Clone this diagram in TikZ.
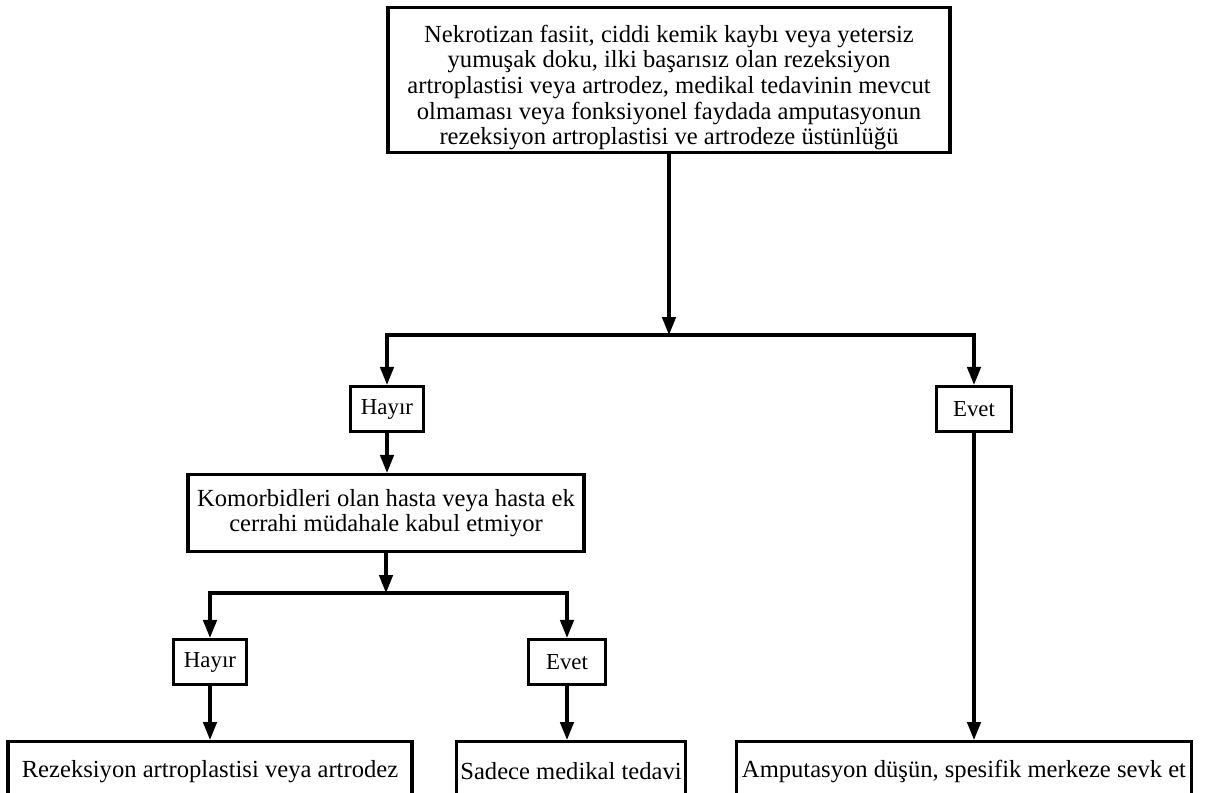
\documentclass[tikz,border=0pt]{standalone}
\usepackage{fontspec}
\setmainfont{Liberation Serif}
\usetikzlibrary{arrows.meta, positioning}

\begin{document}
\begin{tikzpicture}[
        x=0.02cm, y=-0.02cm,
        >={Triangle[length=0.36cm, width=0.27cm]},
        every node/.style={font=\fontsize{14}{14.6}\selectfont},
        box/.style={draw, line width=1.8pt, align=center, inner sep=2pt, minimum height=0.9cm},
        answer/.style={box, minimum width=1.45cm, font=\fontsize{13}{14}\selectfont},
        arr/.style={->, line width=1.8pt},
        line/.style={line width=1.8pt},
    ]
    \useasboundingbox (0,0) rectangle (1215,792);

    %% Boxes
    \node[box, inner sep=0pt, minimum width=11.24cm, minimum height=2.9cm] (top) at (669,80)
        {\rule{0pt}{0.64cm}Nekrotizan fasiit, ciddi kemik kaybı veya yetersiz\\
         yumuşak doku, ilki başarısız olan rezeksiyon\\
         artroplastisi veya artrodez, medikal tedavinin mevcut\\
         olmaması veya fonksiyonel faydada amputasyonun\\
         rezeksiyon artroplastisi ve artrodeze üstünlüğü};
    \node[answer] (hayirA) at (387,409) {Hayır};
    \node[answer, minimum width=1.5cm] (evetA) at (974,409) {Evet};
    \node[box, minimum width=7.92cm, minimum height=1.54cm] (komorb) at (386,513)
        {Komorbidleri olan hasta veya hasta ek\\ cerrahi müdahale kabul etmiyor};
    \node[answer] (hayirB) at (210,662) {Hayır};
    \node[answer, minimum width=1.54cm] (evetB) at (567,662) {Evet};
    \node[box, minimum width=8.08cm, minimum height=1.2cm, anchor=north] (rezek) at (210,740)
        {Rezeksiyon artroplastisi veya artrodez};
    \node[box, minimum width=4.48cm, minimum height=1.2cm, anchor=north] (medikal) at (571,740)
        {Sadece medikal tedavi};
    \node[box, minimum width=9.1cm, minimum height=1.2cm, anchor=north] (amput) at (964,740)
        {Amputasyon düşün, spesifik merkeze sevk et};

    %% Split points
    \coordinate (splitA) at (669,335);
    \coordinate (splitB) at (386,593);

    %% Connectors
    \draw[arr] (top.south) -- (splitA);
    \draw[line] (hayirA.north |- splitA) -- (evetA.north |- splitA);
    \draw[arr] (splitA) -| (hayirA.north);
    \draw[arr] (splitA) -| (evetA.north);
    \draw[arr] (hayirA) -- (hayirA |- komorb.north);
    \draw[arr] (komorb.south) -- (splitB);
    \draw[line] (hayirB.north |- splitB) -- (evetB.north |- splitB);
    \draw[arr] (splitB) -| (hayirB.north);
    \draw[arr] (splitB) -| (evetB.north);
    \draw[arr] (hayirB) -- (hayirB |- rezek.north);
    \draw[arr] (evetB) -- (evetB |- medikal.north);
    \draw[arr] (evetA) -- (evetA |- amput.north);

\end{tikzpicture}
\end{document}
